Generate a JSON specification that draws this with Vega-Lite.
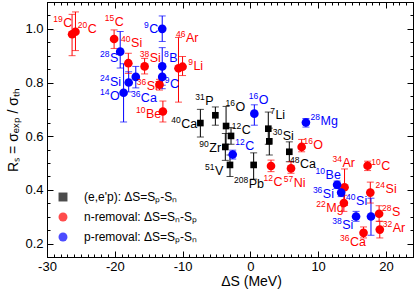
{
  "$schema": "https://vega.github.io/schema/vega-lite/v6.json",
  "width": 366,
  "height": 255,
  "autosize": {"type": "none"},
  "padding": {"left": 47, "top": 2, "right": 2, "bottom": 32},
  "config": {
    "view": {"stroke": "black", "strokeWidth": 1},
    "font": "Liberation Sans",
    "axis": {"grid": false, "domainColor": "black", "tickColor": "black", "labelColor": "black", "titleColor": "black", "labelFont": "Liberation Sans", "titleFont": "Liberation Sans", "titleFontWeight": "normal", "labelFlush": false, "labelOverlap": false, "labelBound": false},
    "legend": {"padding": 0, "labelFontSize": 12, "labelFont": "Liberation Sans", "labelColor": "black", "symbolSize": 80, "labelOffset": 15, "rowPadding": 8, "symbolStrokeWidth": 0}
  },
  "datasets": {
    "pts": [
      {"nuc": "19C", "series": "n-removal: ΔS=Sₙ-Sₚ", "x": -26.3, "y": 0.98, "lo": 0.90, "hi": 1.054},
      {"nuc": "20C", "series": "n-removal: ΔS=Sₙ-Sₚ", "x": -25.8, "y": 0.989, "lo": 0.919, "hi": 1.063},
      {"nuc": "15C", "series": "n-removal: ΔS=Sₙ-Sₚ", "x": -20.1, "y": 0.962, "lo": 0.927, "hi": 0.996},
      {"nuc": "40Si", "series": "n-removal: ΔS=Sₙ-Sₚ", "x": -18.0, "y": 0.872, "lo": 0.834, "hi": 0.909},
      {"nuc": "38Si", "series": "n-removal: ΔS=Sₙ-Sₚ", "x": -15.6, "y": 0.86, "lo": 0.832, "hi": 0.89},
      {"nuc": "46Ar", "series": "n-removal: ΔS=Sₙ-Sₚ", "x": -10.6, "y": 0.853, "lo": 0.727, "hi": 0.968},
      {"nuc": "9Li", "series": "n-removal: ΔS=Sₙ-Sₚ", "x": -10.0, "y": 0.859, "lo": 0.826, "hi": 0.897},
      {"nuc": "36Si", "series": "n-removal: ΔS=Sₙ-Sₚ", "x": -13.4, "y": 0.792, "lo": 0.772, "hi": 0.812},
      {"nuc": "10Be", "series": "n-removal: ΔS=Sₙ-Sₚ", "x": -12.9, "y": 0.692, "lo": 0.653, "hi": 0.731},
      {"nuc": "12C", "series": "n-removal: ΔS=Sₙ-Sₚ", "x": 3.05, "y": 0.489, "lo": 0.468, "hi": 0.511},
      {"nuc": "57Ni", "series": "n-removal: ΔS=Sₙ-Sₚ", "x": 6.0, "y": 0.48, "lo": 0.462, "hi": 0.505},
      {"nuc": "16O", "series": "n-removal: ΔS=Sₙ-Sₚ", "x": 7.57, "y": 0.56, "lo": 0.542, "hi": 0.588},
      {"nuc": "10C", "series": "n-removal: ΔS=Sₙ-Sₚ", "x": 17.3, "y": 0.49, "lo": 0.472, "hi": 0.507},
      {"nuc": "34Ar", "series": "n-removal: ΔS=Sₙ-Sₚ", "x": 13.9, "y": 0.41, "lo": 0.342, "hi": 0.478},
      {"nuc": "22Mg", "series": "n-removal: ΔS=Sₙ-Sₚ", "x": 13.8, "y": 0.351, "lo": 0.32, "hi": 0.38},
      {"nuc": "24Si", "series": "n-removal: ΔS=Sₙ-Sₚ", "x": 17.7, "y": 0.39, "lo": 0.351, "hi": 0.429},
      {"nuc": "28S", "series": "n-removal: ΔS=Sₙ-Sₚ", "x": 19.0, "y": 0.311, "lo": 0.283, "hi": 0.341},
      {"nuc": "32Ar", "series": "n-removal: ΔS=Sₙ-Sₚ", "x": 19.1, "y": 0.252, "lo": 0.221, "hi": 0.283},
      {"nuc": "36Ca", "series": "n-removal: ΔS=Sₙ-Sₚ", "x": 16.7, "y": 0.24, "lo": 0.221, "hi": 0.262},
      {"nuc": "28S", "series": "p-removal: ΔS=Sₚ-Sₙ", "x": -19.2, "y": 0.915, "lo": 0.854, "hi": 0.99},
      {"nuc": "14O", "series": "p-removal: ΔS=Sₚ-Sₙ", "x": -18.7, "y": 0.762, "lo": 0.653, "hi": 0.87},
      {"nuc": "24Si", "series": "p-removal: ΔS=Sₚ-Sₙ", "x": -17.95, "y": 0.80, "lo": 0.765, "hi": 0.84},
      {"nuc": "36Ca", "series": "p-removal: ΔS=Sₚ-Sₙ", "x": -16.9, "y": 0.821, "lo": 0.78, "hi": 0.86},
      {"nuc": "9C", "series": "p-removal: ΔS=Sₚ-Sₙ", "x": -13.0, "y": 1.0, "lo": 0.953, "hi": 1.048},
      {"nuc": "8B", "series": "p-removal: ΔS=Sₚ-Sₙ", "x": -13.0, "y": 0.86, "lo": 0.79, "hi": 0.93},
      {"nuc": "9C", "series": "p-removal: ΔS=Sₚ-Sₙ", "x": -13.0, "y": 0.821, "lo": 0.777, "hi": 0.865},
      {"nuc": "12C", "series": "p-removal: ΔS=Sₚ-Sₙ", "x": -2.6, "y": 0.532, "lo": 0.515, "hi": 0.548},
      {"nuc": "16O", "series": "p-removal: ΔS=Sₚ-Sₙ", "x": 0.59, "y": 0.684, "lo": 0.641, "hi": 0.717},
      {"nuc": "28Mg", "series": "p-removal: ΔS=Sₚ-Sₙ", "x": 8.2, "y": 0.651, "lo": 0.634, "hi": 0.666},
      {"nuc": "10Be", "series": "p-removal: ΔS=Sₚ-Sₙ", "x": 12.8, "y": 0.419, "lo": 0.405, "hi": 0.433},
      {"nuc": "36Si", "series": "p-removal: ΔS=Sₚ-Sₙ", "x": 13.4, "y": 0.39, "lo": 0.375, "hi": 0.405},
      {"nuc": "40Si", "series": "p-removal: ΔS=Sₚ-Sₙ", "x": 17.8, "y": 0.301, "lo": 0.231, "hi": 0.369},
      {"nuc": "38Si", "series": "p-removal: ΔS=Sₚ-Sₙ", "x": 15.6, "y": 0.301, "lo": 0.283, "hi": 0.32},
      {"nuc": "40Ca", "series": "(e,e'p): ΔS=Sₚ-Sₙ", "x": -7.37, "y": 0.649, "lo": 0.597, "hi": 0.70},
      {"nuc": "31P", "series": "(e,e'p): ΔS=Sₚ-Sₙ", "x": -5.16, "y": 0.678, "lo": 0.641, "hi": 0.709},
      {"nuc": "16O", "series": "(e,e'p): ΔS=Sₚ-Sₙ", "x": -3.58, "y": 0.638, "lo": 0.57, "hi": 0.711},
      {"nuc": "12C", "series": "(e,e'p): ΔS=Sₚ-Sₙ", "x": -2.85, "y": 0.601, "lo": 0.57, "hi": 0.632},
      {"nuc": "90Zr", "series": "(e,e'p): ΔS=Sₚ-Sₙ", "x": -3.69, "y": 0.56, "lo": 0.51, "hi": 0.61},
      {"nuc": "51V", "series": "(e,e'p): ΔS=Sₚ-Sₙ", "x": -3.0, "y": 0.493, "lo": 0.45, "hi": 0.53},
      {"nuc": "208Pb", "series": "(e,e'p): ΔS=Sₚ-Sₙ", "x": 0.49, "y": 0.493, "lo": 0.44, "hi": 0.538},
      {"nuc": "7Li", "series": "(e,e'p): ΔS=Sₚ-Sₙ", "x": 2.65, "y": 0.628, "lo": 0.57, "hi": 0.69},
      {"nuc": "30Si", "series": "(e,e'p): ΔS=Sₚ-Sₙ", "x": 2.8, "y": 0.581, "lo": 0.53, "hi": 0.63},
      {"nuc": "48Ca", "series": "(e,e'p): ΔS=Sₚ-Sₙ", "x": 5.75, "y": 0.542, "lo": 0.505, "hi": 0.579}
    ],
    "labs": [
      {"a": "19", "el": "C", "series": "n-removal: ΔS=Sₙ-Sₚ", "lx": -27.6, "ly": 1.006},
      {"a": "20", "el": "C", "series": "n-removal: ΔS=Sₙ-Sₚ", "lx": -24.0, "ly": 0.986},
      {"a": "15", "el": "C", "series": "n-removal: ΔS=Sₙ-Sₚ", "lx": -20.0, "ly": 1.011},
      {"a": "40", "el": "Si", "series": "n-removal: ΔS=Sₙ-Sₚ", "lx": -17.6, "ly": 0.931},
      {"a": "38", "el": "Si", "series": "n-removal: ΔS=Sₙ-Sₚ", "lx": -14.85, "ly": 0.878},
      {"a": "46", "el": "Ar", "series": "n-removal: ΔS=Sₙ-Sₚ", "lx": -9.5, "ly": 0.952},
      {"a": "9", "el": "Li", "series": "n-removal: ΔS=Sₙ-Sₚ", "lx": -8.4, "ly": 0.847},
      {"a": "36", "el": "Si", "series": "n-removal: ΔS=Sₙ-Sₚ", "lx": -15.3, "ly": 0.774},
      {"a": "10", "el": "Be", "series": "n-removal: ΔS=Sₙ-Sₚ", "lx": -15.4, "ly": 0.666},
      {"a": "12", "el": "C", "series": "n-removal: ΔS=Sₙ-Sₚ", "lx": 3.4, "ly": 0.415},
      {"a": "57", "el": "Ni", "series": "n-removal: ΔS=Sₙ-Sₚ", "lx": 6.4, "ly": 0.412},
      {"a": "16", "el": "O", "series": "n-removal: ΔS=Sₙ-Sₚ", "lx": 9.3, "ly": 0.551},
      {"a": "10", "el": "C", "series": "n-removal: ΔS=Sₙ-Sₚ", "lx": 19.3, "ly": 0.474},
      {"a": "34", "el": "Ar", "series": "n-removal: ΔS=Sₙ-Sₚ", "lx": 13.6, "ly": 0.486},
      {"a": "22", "el": "Mg", "series": "n-removal: ΔS=Sₙ-Sₚ", "lx": 11.2, "ly": 0.316},
      {"a": "24", "el": "Si", "series": "n-removal: ΔS=Sₙ-Sₚ", "lx": 19.95, "ly": 0.39},
      {"a": "28", "el": "S", "series": "n-removal: ΔS=Sₙ-Sₚ", "lx": 20.9, "ly": 0.301},
      {"a": "32", "el": "Ar", "series": "n-removal: ΔS=Sₙ-Sₚ", "lx": 21.0, "ly": 0.242},
      {"a": "36", "el": "Ca", "series": "n-removal: ΔS=Sₙ-Sₚ", "lx": 14.7, "ly": 0.19},
      {"a": "28", "el": "S", "series": "p-removal: ΔS=Sₚ-Sₙ", "lx": -20.7, "ly": 0.875},
      {"a": "24", "el": "Si", "series": "p-removal: ΔS=Sₚ-Sₙ", "lx": -20.7, "ly": 0.786},
      {"a": "14", "el": "O", "series": "p-removal: ΔS=Sₚ-Sₙ", "lx": -20.7, "ly": 0.736},
      {"a": "36", "el": "Ca", "series": "p-removal: ΔS=Sₚ-Sₙ", "lx": -16.15, "ly": 0.727},
      {"a": "9", "el": "C", "series": "p-removal: ΔS=Sₚ-Sₙ", "lx": -14.9, "ly": 0.983},
      {"a": "8", "el": "B", "series": "p-removal: ΔS=Sₚ-Sₙ", "lx": -11.96, "ly": 0.878},
      {"a": "9", "el": "C", "series": "p-removal: ΔS=Sₚ-Sₙ", "lx": -11.86, "ly": 0.778},
      {"a": "12", "el": "C", "series": "p-removal: ΔS=Sₚ-Sₙ", "lx": -0.74, "ly": 0.548},
      {"a": "16", "el": "O", "series": "p-removal: ΔS=Sₚ-Sₙ", "lx": 1.23, "ly": 0.721},
      {"a": "28", "el": "Mg", "series": "p-removal: ΔS=Sₚ-Sₙ", "lx": 10.35, "ly": 0.64},
      {"a": "10", "el": "Be", "series": "p-removal: ΔS=Sₚ-Sₙ", "lx": 11.1, "ly": 0.44},
      {"a": "36", "el": "Si", "series": "p-removal: ΔS=Sₚ-Sₙ", "lx": 10.7, "ly": 0.37},
      {"a": "40", "el": "Si", "series": "p-removal: ΔS=Sₚ-Sₙ", "lx": 15.6, "ly": 0.344},
      {"a": "38", "el": "Si", "series": "p-removal: ΔS=Sₚ-Sₙ", "lx": 13.55, "ly": 0.256},
      {"a": "40", "el": "Ca", "series": "(e,e'p): ΔS=Sₚ-Sₙ", "lx": -10.2, "ly": 0.632},
      {"a": "31", "el": "P", "series": "(e,e'p): ΔS=Sₚ-Sₙ", "lx": -6.65, "ly": 0.715},
      {"a": "16", "el": "O", "series": "(e,e'p): ΔS=Sₚ-Sₙ", "lx": -2.2, "ly": 0.693},
      {"a": "12", "el": "C", "series": "(e,e'p): ΔS=Sₚ-Sₙ", "lx": -1.28, "ly": 0.61},
      {"a": "90", "el": "Zr", "series": "(e,e'p): ΔS=Sₚ-Sₙ", "lx": -6.05, "ly": 0.542},
      {"a": "51", "el": "V", "series": "(e,e'p): ΔS=Sₚ-Sₙ", "lx": -5.2, "ly": 0.456},
      {"a": "208", "el": "Pb", "series": "(e,e'p): ΔS=Sₚ-Sₙ", "lx": -0.25, "ly": 0.407},
      {"a": "7", "el": "Li", "series": "(e,e'p): ΔS=Sₚ-Sₙ", "lx": 3.7, "ly": 0.663},
      {"a": "30", "el": "Si", "series": "(e,e'p): ΔS=Sₚ-Sₙ", "lx": 4.77, "ly": 0.585},
      {"a": "48", "el": "Ca", "series": "(e,e'p): ΔS=Sₚ-Sₙ", "lx": 7.34, "ly": 0.48}
    ]
  },
  "resolve": {"axis": {"x": "independent", "y": "independent"}},
  "layer": [
    {
      "data": {"name": "pts"},
      "mark": {"type": "rule", "strokeWidth": 1},
      "encoding": {
        "x": {"field": "x", "type": "quantitative", "scale": {"domain": [-30, 24], "nice": false, "zero": false},
          "title": "ΔS  (MeV)",
          "axis": {"orient": "bottom", "values": [-30,-29,-28,-27,-26,-25,-24,-23,-22,-21,-20,-19,-18,-17,-16,-15,-14,-13,-12,-11,-10,-9,-8,-7,-6,-5,-4,-3,-2,-1,0,1,2,3,4,5,6,7,8,9,10,11,12,13,14,15,16,17,18,19,20,21,22,23,24],
            "labelExpr": "datum.value % 10 == 0 ? '' + datum.value : ''",
            "tickSize": {"condition": {"test": "datum.value % 10 == 0", "value": -6}, "value": -3},
            "labelPadding": 9, "labelFontSize": 13, "titleFontSize": 14, "titleX": 204, "titleY": 28, "titleBaseline": "alphabetic"}},
        "y": {"field": "lo", "type": "quantitative", "scale": {"domain": [0.15, 1.1], "nice": false, "zero": false},
          "title": "Rₛ = σₑₓₚ / σₜₕ",
          "axis": {"orient": "left", "values": [0.15,0.2,0.25,0.3,0.35,0.4,0.45,0.5,0.55,0.6,0.65,0.7,0.75,0.8,0.85,0.9,0.95,1.0,1.05,1.1],
            "labelExpr": "abs(datum.value*5 - round(datum.value*5)) < 0.001 ? format(datum.value, '.1f') : ''",
            "tickSize": {"condition": {"test": "abs(datum.value*5 - round(datum.value*5)) < 0.001", "value": -6}, "value": -3},
            "labelPadding": 10, "labelFontSize": 13, "titleFontSize": 14, "titlePadding": 4}},
        "y2": {"field": "hi"},
        "color": {"field": "series", "type": "nominal",
          "scale": {"domain": ["(e,e'p): ΔS=Sₚ-Sₙ", "n-removal: ΔS=Sₙ-Sₚ", "p-removal: ΔS=Sₚ-Sₙ"], "range": ["#000000", "#ff0000", "#0000ff"]},
          "legend": {"orient": "none", "legendX": 10, "legendY": 189, "title": null}}
      }
    },
    {
      "data": {"name": "pts"},
      "mark": {"type": "tick", "orient": "horizontal", "size": 7, "thickness": 1},
      "encoding": {
        "x": {"field": "x", "type": "quantitative", "scale": {"domain": [-30, 24], "nice": false, "zero": false},
          "axis": {"orient": "top", "values": [-30,-29,-28,-27,-26,-25,-24,-23,-22,-21,-20,-19,-18,-17,-16,-15,-14,-13,-12,-11,-10,-9,-8,-7,-6,-5,-4,-3,-2,-1,0,1,2,3,4,5,6,7,8,9,10,11,12,13,14,15,16,17,18,19,20,21,22,23,24],
            "labels": false, "title": null,
            "tickSize": {"condition": {"test": "datum.value % 10 == 0", "value": -6}, "value": -3}}},
        "y": {"field": "lo", "type": "quantitative", "scale": {"domain": [0.15, 1.1], "nice": false, "zero": false},
          "axis": {"orient": "right", "values": [0.15,0.2,0.25,0.3,0.35,0.4,0.45,0.5,0.55,0.6,0.65,0.7,0.75,0.8,0.85,0.9,0.95,1.0,1.05,1.1],
            "labels": false, "title": null,
            "tickSize": {"condition": {"test": "abs(datum.value*5 - round(datum.value*5)) < 0.001", "value": -6}, "value": -3}}},
        "color": {"field": "series", "type": "nominal"}
      }
    },
    {
      "data": {"name": "pts"},
      "mark": {"type": "tick", "orient": "horizontal", "size": 7, "thickness": 1},
      "encoding": {
        "x": {"field": "x", "type": "quantitative", "axis": null},
        "y": {"field": "hi", "type": "quantitative", "axis": null},
        "color": {"field": "series", "type": "nominal"}
      }
    },
    {
      "data": {"name": "pts"},
      "transform": [{"filter": {"not": {"field": "series", "equal": "(e,e'p): ΔS=Sₚ-Sₙ"}}}],
      "mark": {"type": "point", "filled": true, "opacity": 1, "size": 75, "strokeWidth": 0},
      "encoding": {
        "x": {"field": "x", "type": "quantitative", "axis": null},
        "y": {"field": "y", "type": "quantitative", "axis": null},
        "color": {"field": "series", "type": "nominal"},
        "shape": {"field": "series", "type": "nominal",
          "scale": {"domain": ["(e,e'p): ΔS=Sₚ-Sₙ", "n-removal: ΔS=Sₙ-Sₚ", "p-removal: ΔS=Sₚ-Sₙ"], "range": ["square", "circle", "circle"]}}
      }
    },
    {
      "data": {"name": "pts"},
      "transform": [{"filter": {"field": "series", "equal": "(e,e'p): ΔS=Sₚ-Sₙ"}}],
      "mark": {"type": "point", "filled": true, "opacity": 1, "size": 44, "strokeWidth": 0},
      "encoding": {
        "x": {"field": "x", "type": "quantitative", "axis": null},
        "y": {"field": "y", "type": "quantitative", "axis": null},
        "color": {"field": "series", "type": "nominal"},
        "shape": {"field": "series", "type": "nominal"}
      }
    },
    {
      "data": {"name": "labs"},
      "mark": {"type": "text", "align": "right", "baseline": "alphabetic", "fontSize": 8.5, "dy": -5, "dx": -0.5, "font": "Liberation Sans"},
      "encoding": {
        "x": {"field": "lx", "type": "quantitative", "axis": null},
        "y": {"field": "ly", "type": "quantitative", "axis": null},
        "text": {"field": "a"},
        "color": {"field": "series", "type": "nominal"}
      }
    },
    {
      "data": {"name": "labs"},
      "mark": {"type": "text", "align": "left", "baseline": "alphabetic", "fontSize": 12.5, "font": "Liberation Sans"},
      "encoding": {
        "x": {"field": "lx", "type": "quantitative", "axis": null},
        "y": {"field": "ly", "type": "quantitative", "axis": null},
        "text": {"field": "el"},
        "color": {"field": "series", "type": "nominal"}
      }
    }
  ]
}
